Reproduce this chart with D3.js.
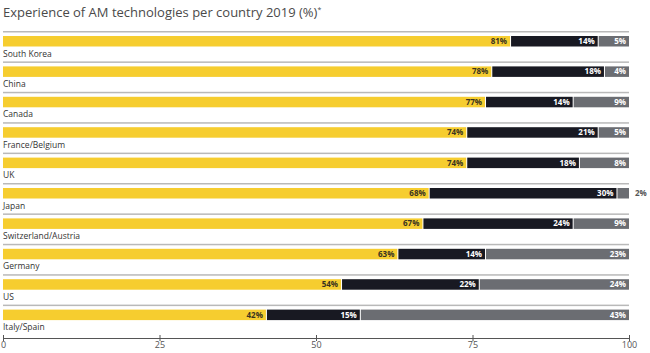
<!DOCTYPE html>
<html>
<head>
<meta charset="utf-8">
<script src="https://cdn.jsdelivr.net/npm/d3@7"></script>
<style>
  body { margin: 0; background: #fff; font-family: "Open Sans", "DejaVu Sans", sans-serif; }
</style>
</head>
<body>
<div id="chart"></div>
<script>
const width = 650;
const height = 353;

const countries = ["South Korea", "China", "Canada", "France/Belgium", "UK", "Japan", "Switzerland/Austria", "Germany", "US", "Italy/Spain"];
const high = [81, 78, 77, 74, 74, 68, 67, 63, 54, 42];
const medium = [14, 18, 14, 21, 18, 30, 24, 14, 22, 15];
const low = [5, 4, 9, 5, 8, 2, 9, 23, 24, 43];
const ticks = [0, 25, 50, 75, 100];

const colors = ["#f6cd2f", "#181922", "#6b6d72"];
const labelColors = ["#3a3320", "#ffffff", "#ffffff"];

const svg = d3.select("#chart")
  .append("svg")
  .attr("width", width)
  .attr("height", height);

// title
const title = svg.append("text")
  .attr("x", 3)
  .attr("y", 17)
  .attr("font-size", 13)
  .attr("fill", "#4a4a4a")
  .text("Experience of AM technologies per country 2019 (%)");
title.append("tspan")
  .attr("font-size", 7)
  .attr("dy", -5)
  .text("*");

const x = d3.scaleLinear().domain([0, 100]).range([3, 629]);
const y = d3.scaleBand().domain(countries).range([31, 335]).paddingInner(0);

const rows = countries.map((c, i) => ({ country: c, vals: [high[i], medium[i], low[i]] }));

const row = svg.append("g")
  .selectAll("g")
  .data(rows)
  .enter()
  .append("g")
  .attr("transform", d => `translate(0,${y(d.country)})`);

// gray separator
row.append("rect")
  .attr("x", x(0))
  .attr("y", 0)
  .attr("width", x(100) - x(0))
  .attr("height", 1.5)
  .attr("fill", "#b9b9b9");

const barY = 5;
const barH = 10.5;

row.each(function (d) {
  const g = d3.select(this);
  let start = 0;
  d.vals.forEach((v, k) => {
    const x0 = x(start);
    const x1 = x(start + v);
    g.append("rect")
      .attr("x", x0 + (k > 0 ? 1 : 0))
      .attr("y", barY)
      .attr("width", Math.max(0, x1 - x0 - (k > 0 ? 1 : 0)))
      .attr("height", barH)
      .attr("fill", colors[k]);
    const small = v < 4;
    g.append("text")
      .attr("x", small ? x1 + 6 : x1 - 3)
      .attr("y", barY + barH / 2)
      .attr("dy", "0.35em")
      .attr("text-anchor", small ? "start" : "end")
      .attr("font-size", 8)
      .attr("font-weight", "bold")
      .attr("fill", small ? "#555" : labelColors[k])
      .text(v + "%");
    start += v;
  });
  g.append("text")
    .attr("x", 3)
    .attr("y", barY + barH + 10)
    .attr("font-size", 8.5)
    .attr("fill", "#333")
    .text(d.country);
});

// axis
const axis = svg.append("g")
  .attr("transform", "translate(0,338)")
  .call(d3.axisBottom(x).tickValues(ticks).tickSize(3).tickSizeOuter(0));
axis.select(".domain").attr("stroke", "#555");
axis.selectAll(".tick line").attr("stroke", "#555").attr("y1", -3);
axis.selectAll(".tick text")
  .attr("font-size", 9)
  .attr("fill", "#555")
  .attr("font-family", "Open Sans, DejaVu Sans, sans-serif")
  .attr("y", 4)
  .attr("dy", "0.71em");
</script>
</body>
</html>
